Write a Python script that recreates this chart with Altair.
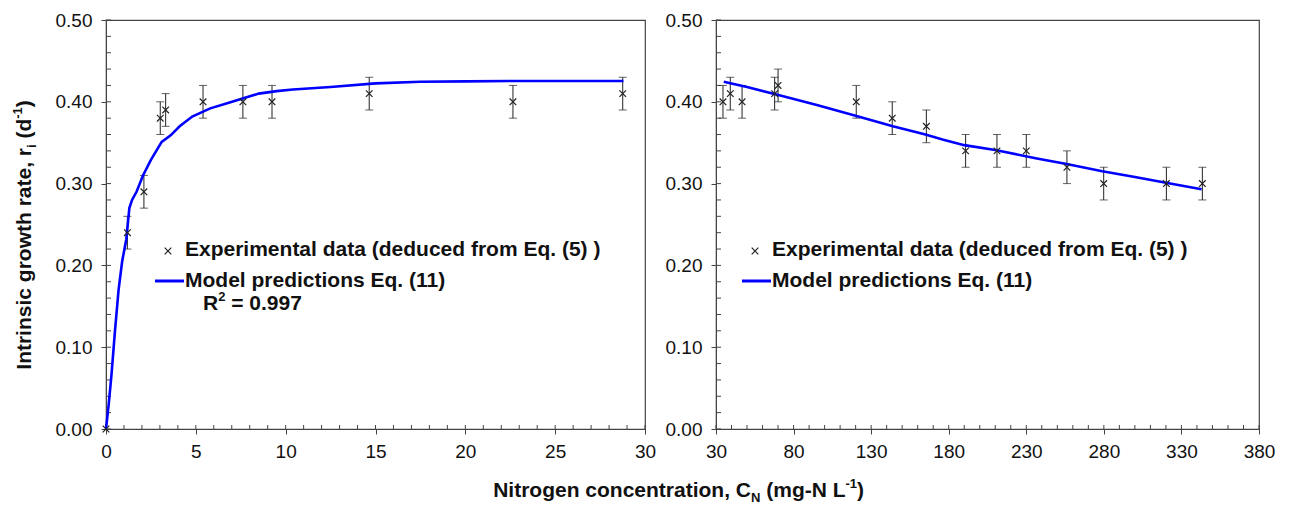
import altair as alt
import pandas as pd

FONT = "Liberation Sans"

# ---------------- data ----------------
# Left panel: low nitrogen range
left_x = [0.0, 1.19, 2.11, 3.02, 3.32, 5.40, 7.62, 9.24, 14.65, 22.65, 28.76]
left_y = [0.00, 0.24, 0.29, 0.38, 0.39, 0.40, 0.40, 0.40, 0.41, 0.40, 0.41]
left_err = [0.00, 0.02, 0.02, 0.02, 0.02, 0.02, 0.02, 0.02, 0.02, 0.02, 0.02]

model_left_x = [0.0, 0.15, 0.3, 0.5, 0.7, 0.9, 1.13, 1.3, 1.45, 1.7, 2.06, 2.5, 3.1,
                3.6, 4.1, 4.8, 5.8, 6.7, 7.6, 8.5, 9.5, 10.4, 12.5, 15.0, 17.5,
                20.0, 22.5, 25.0, 28.8]
model_left_y = [0.0, 0.03, 0.065, 0.12, 0.17, 0.205, 0.232, 0.27, 0.28, 0.29, 0.31,
                0.329, 0.351, 0.359, 0.37, 0.382, 0.392, 0.398, 0.404, 0.41, 0.413,
                0.415, 0.418, 0.4225, 0.4245, 0.425, 0.4255, 0.4255, 0.4255]

# Right panel: high nitrogen range
right_x = [34.5, 39.2, 46.8, 67.8, 70.0, 120.4, 143.6, 165.6, 190.9, 211.1,
           230.0, 256.2, 279.9, 320.3, 343.5]
right_y = [0.40, 0.41, 0.40, 0.41, 0.42, 0.40, 0.38, 0.37, 0.34, 0.34,
           0.34, 0.32, 0.30, 0.30, 0.30]
right_err = [0.02, 0.02, 0.02, 0.02, 0.02, 0.02, 0.02, 0.02, 0.02, 0.02,
             0.02, 0.02, 0.02, 0.02, 0.02]

model_right_x = [35, 50, 69, 95, 120, 144, 165, 176, 190, 210, 236, 256, 279, 300, 320, 343]
model_right_y = [0.4245, 0.418, 0.409, 0.396, 0.383, 0.370, 0.360, 0.354, 0.347,
                 0.341, 0.331, 0.324, 0.315, 0.308, 0.301, 0.293]

# axis ticks
y_major = [0.0, 0.1, 0.2, 0.3, 0.4, 0.5]
y_minor = [round(i * 0.02, 2) for i in range(26)]
left_major = [0, 5, 10, 15, 20, 25, 30]
left_minor = list(range(0, 31))
right_major = [30, 80, 130, 180, 230, 280, 330, 380]
right_minor = list(range(30, 381, 10))

LEG1 = "Experimental data (deduced from Eq. (5) )"
LEG2 = "Model predictions Eq. (11)"

# ---------------- layout ----------------
W1, W2, H = 539, 543, 409
CROSS = "M-1,-1L1,1M-1,1L1,-1"
AX = "#444444"
BLUE = "#0000FF"
INK = "#111111"
MSIZE = 44

# Liberation Sans Bold advance widths (em) for the pieces of composed titles
EM = {" ": 0.278, "(": 0.333, ")": 0.333, "m": 0.889, "g": 0.611, "-": 0.333,
      "N": 0.722, "L": 0.611, "d": 0.611, "i": 0.278, "1": 0.556, "2": 0.556,
      "R": 0.722}


def tw(s, size):
    return sum(EM[c] for c in s) * size


ys = alt.Scale(domain=[0, 0.5], nice=False, zero=False)
yaxis = alt.Axis(title=None, values=y_major, format=".2f", labelFontSize=19,
                 labelColor=INK, labelFont=FONT, tickSize=5, tickColor=AX,
                 labelPadding=9, domainColor=AX, grid=False, labelFlush=False)
one = pd.DataFrame({"k": [0]})


def txt(s, x, y, size=21, bold=True, align="left", baseline="middle", angle=0, dy=0):
    kw = dict(text=s, font=FONT, fontSize=size, fontWeight="bold" if bold else "normal",
              align=align, baseline=baseline, color=INK, dy=dy)
    if angle:
        kw["angle"] = angle
    return alt.Chart(one).mark_text(**kw).encode(x=alt.value(x), y=alt.value(y))


def panel(width, xdomain, xmajor, xminor, px, py, perr, mx, my, extra):
    xs = alt.Scale(domain=xdomain, nice=False, zero=False)
    xaxis = alt.Axis(title=None, values=xmajor, format="d", labelFontSize=19,
                     labelColor=INK, labelFont=FONT, tickSize=5, tickColor=AX,
                     labelPadding=8, domainColor=AX, grid=False, labelFlush=False)

    def X(f):
        return alt.X(f, type="quantitative", scale=xs, axis=xaxis)

    def Y(f):
        return alt.Y(f, type="quantitative", scale=ys, axis=yaxis)

    pts = pd.DataFrame({"x": px, "y": py, "e": perr})
    pts["lo"] = pts["y"] - pts["e"]
    pts["hi"] = pts["y"] + pts["e"]
    eb = pts[pts["e"] > 0]
    model = pd.DataFrame({"x": mx, "y": my})

    layers = [
        alt.Chart(pd.DataFrame({"y": y_minor})).mark_rule(color=AX, strokeWidth=1)
        .encode(x=alt.value(0), x2=alt.value(5), y=Y("y")),
        alt.Chart(pd.DataFrame({"x": xminor})).mark_rule(color=AX, strokeWidth=1)
        .encode(x=X("x"), y=alt.value(H), y2=alt.value(H - 4)),
        alt.Chart(eb).mark_rule(color="#222222", strokeWidth=1)
        .encode(x=X("x"), y=Y("lo"), y2="hi"),
        alt.Chart(eb).mark_tick(orient="horizontal", size=8, thickness=1, color="#222222")
        .encode(x=X("x"), y=Y("lo")),
        alt.Chart(eb).mark_tick(orient="horizontal", size=8, thickness=1, color="#222222")
        .encode(x=X("x"), y=Y("hi")),
        alt.Chart(model).mark_line(color=BLUE, strokeWidth=2.6)
        .encode(x=X("x"), y=Y("y")),
        alt.Chart(pts).mark_point(shape=CROSS, size=MSIZE, filled=False, strokeWidth=1.2,
                                  color="#222222", opacity=1)
        .encode(x=X("x"), y=Y("y")),
    ]
    return alt.layer(*layers, *extra).properties(width=width, height=H)


def legend(x0, r2):
    out = [
        alt.Chart(one).mark_point(shape=CROSS, size=MSIZE, filled=False, strokeWidth=1.2,
                                  color="#222222", opacity=1)
        .encode(x=alt.value(x0 - 17), y=alt.value(231)),
        txt(LEG1, x0, 230),
        alt.Chart(one).mark_rule(color=BLUE, strokeWidth=3)
        .encode(x=alt.value(x0 - 30), x2=alt.value(x0 - 1), y=alt.value(261)),
        txt(LEG2, x0, 261),
    ]
    if r2:
        rx = x0 + 18
        out += [
            txt("R", rx, 284),
            txt("2", rx + tw("R", 21), 284, size=13, dy=-7),
            txt("= 0.997", rx + tw("R", 21) + tw("2", 13) + tw(" ", 21), 284),
        ]
    return out


# composed axis titles (sub/superscripts) on the left panel
P = 645  # end of "Nitrogen concentration, C"
XB = 477
xtitle = [
    txt("Nitrogen concentration, C", P, XB, align="right", baseline="alphabetic"),
    txt("N", P, XB, size=13, baseline="alphabetic", dy=5),
]
p2 = P + tw("N", 13) + tw(" ", 21)
xtitle.append(txt("(mg-N L", p2, XB, baseline="alphabetic"))
p3 = p2 + tw("(mg-N L", 21)
xtitle.append(txt("-1", p3, XB, size=13, baseline="alphabetic", dy=-9))
p4 = p3 + tw("-1", 13)
xtitle.append(txt(")", p4, XB, baseline="alphabetic"))

YX = -75   # baseline of rotated title
Q = 128    # end of "Intrinsic growth rate, r"
ytitle = [
    txt("Intrinsic growth rate, r", YX, Q, align="right", baseline="alphabetic", angle=270),
    txt("i", YX, Q, size=13, baseline="alphabetic", angle=270, dy=5),
]
q2 = Q - tw("i", 13) - tw(" ", 21)
ytitle.append(txt("(d", YX, q2, baseline="alphabetic", angle=270))
q3 = q2 - tw("(d", 21)
ytitle.append(txt("-1", YX, q3, size=13, baseline="alphabetic", angle=270, dy=-9))
q4 = q3 - tw("-1", 13)
ytitle.append(txt(")", YX, q4, baseline="alphabetic", angle=270))

left = panel(W1, [0, 30], left_major, left_minor, left_x, left_y, left_err,
             model_left_x, model_left_y, legend(79, True) + xtitle + ytitle)
right = panel(W2, [30, 380], right_major, right_minor, right_x, right_y, right_err,
              model_right_x, model_right_y, legend(56, False))

chart = (
    alt.hconcat(left, right, spacing=71, bounds="flush")
    .properties(padding={"left": 11, "top": 10, "right": 5, "bottom": 0})
    .configure(font=FONT)
    .configure_view(stroke=AX, strokeWidth=1.2)
)

chart.save("out.html", embed_options={"renderer": "svg", "actions": False})
